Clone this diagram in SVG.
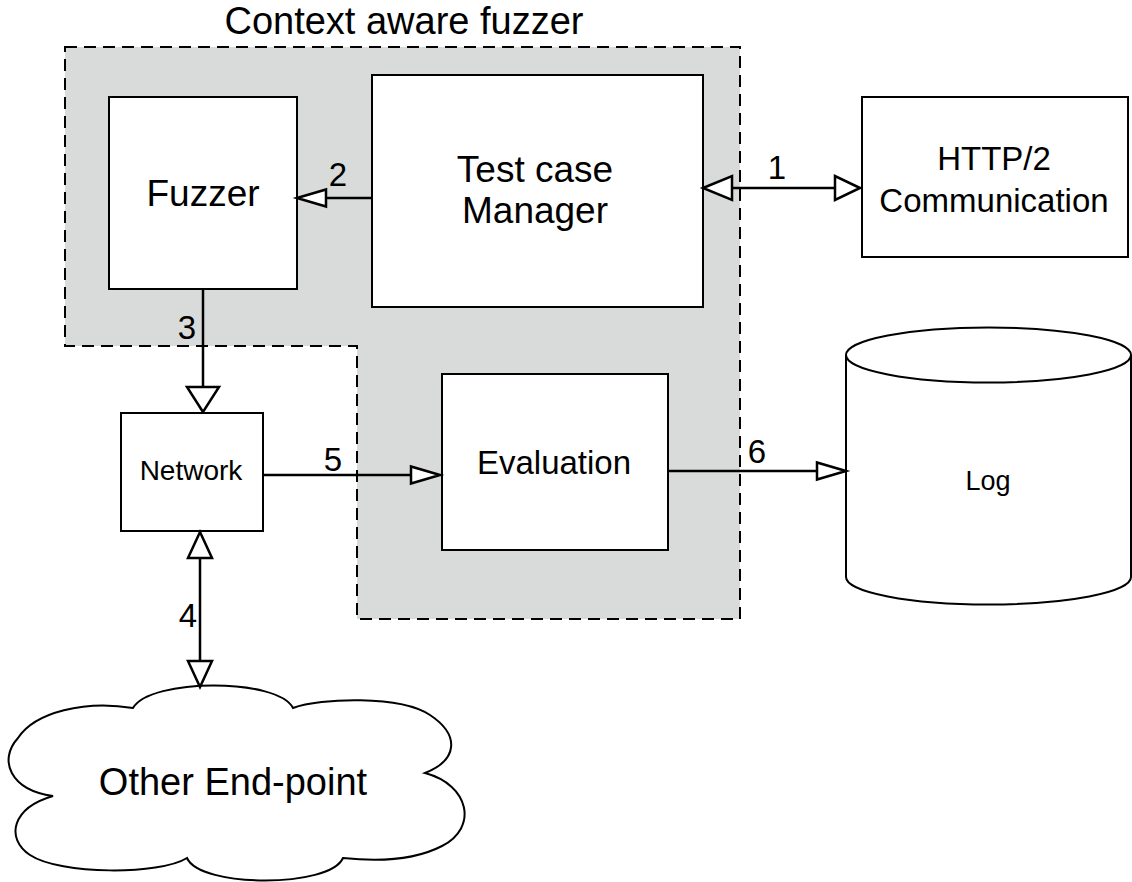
<svg xmlns="http://www.w3.org/2000/svg" width="1132" height="882" viewBox="0 0 1132 882">
  <style>
    .box { fill: #ffffff; stroke: #000000; stroke-width: 2; }
    .shape { fill: #ffffff; stroke: #000000; stroke-width: 2; }
    .zone { fill: #d9dbda; stroke: #000000; stroke-width: 2; stroke-dasharray: 12 7; }
    .wire { fill: none; stroke: #000000; stroke-width: 2.5; }
    .head { fill: #ffffff; stroke: #000000; stroke-width: 2.5; stroke-linejoin: miter; }
    text { font-family: "Liberation Sans", Arial, sans-serif; fill: #000000; text-anchor: middle; }
    .num { font-size: 33px; }
  </style>

  <!-- fuzzer boundary -->
  <g id="context-aware-fuzzer">
    <path class="zone" d="M65,47 H740 V619 H357 V346 H65 Z"/>
    <text x="404" y="34" font-size="38">Context aware fuzzer</text>
  </g>

  <g id="fuzzer">
    <rect class="box" x="109" y="97" width="188" height="192"/>
    <text x="203" y="206" font-size="37">Fuzzer</text>
  </g>

  <g id="test-case-manager">
    <rect class="box" x="372" y="75" width="331" height="232"/>
    <text x="535" y="182" font-size="37">Test case</text>
    <text x="535" y="223" font-size="37">Manager</text>
  </g>

  <g id="http2-communication">
    <rect class="box" x="862" y="97" width="266" height="160"/>
    <text x="994" y="170" font-size="33">HTTP/2</text>
    <text x="994" y="212" font-size="33">Communication</text>
  </g>

  <g id="network">
    <rect class="box" x="121" y="413" width="142" height="118"/>
    <text x="191" y="480" font-size="28">Network</text>
  </g>

  <g id="evaluation">
    <rect class="box" x="442" y="374" width="226" height="176"/>
    <text x="554" y="474" font-size="33">Evaluation</text>
  </g>

  <g id="log">
    <path class="shape" d="M846,355 V577 A142.5,27.5 0 0 0 1131,577 V355"/>
    <ellipse class="shape" cx="988.5" cy="355" rx="142.5" ry="27.5"/>
    <text x="988" y="490" font-size="27">Log</text>
  </g>

  <g id="other-end-point">
    <path class="shape" stroke-width="1.6" d="M133,708
      C150,678 278,678 293,708
      C320,698 400,695 430,715
      C460,735 458,760 425,773
      C470,785 478,828 442,846
      C415,860 380,862 343,858
      C330,888 200,888 187,858
      C160,875 60,875 30,855
      C5,838 12,808 53,796
      C10,790 -2,760 18,738
      C35,712 85,700 133,708 Z"/>
    <text x="233" y="795" font-size="38">Other End-point</text>
  </g>

  <!-- connectors with open arrowheads -->
  <g id="connectors">
    <!-- 1: manager <-> HTTP/2 -->
    <line class="wire" x1="732" y1="188" x2="835" y2="188"/>
    <polygon class="head" points="703,188 732,176 732,200"/>
    <polygon class="head" points="860,188 835,176 835,200"/>
    <text class="num" x="777" y="179">1</text>

    <!-- 2: manager -> fuzzer -->
    <line class="wire" x1="372" y1="198" x2="326" y2="198"/>
    <polygon class="head" points="297,198 326,189.5 326,206.5"/>
    <text class="num" x="338" y="186">2</text>

    <!-- 3: fuzzer -> network -->
    <line class="wire" x1="203" y1="289" x2="203" y2="387"/>
    <polygon class="head" points="203,412 187,387 219,387"/>
    <text class="num" x="187" y="339">3</text>

    <!-- 4: network <-> other end-point -->
    <line class="wire" x1="200" y1="558" x2="200" y2="661"/>
    <polygon class="head" points="200,532 188,558 212,558"/>
    <polygon class="head" points="200,687 188,661 212,661"/>
    <text class="num" x="188" y="627">4</text>

    <!-- 5: network -> evaluation -->
    <line class="wire" x1="263" y1="475" x2="411" y2="475"/>
    <polygon class="head" points="440,475 411,466.5 411,483.5"/>
    <text class="num" x="333" y="471">5</text>

    <!-- 6: evaluation -> log -->
    <line class="wire" x1="668" y1="471" x2="817" y2="471"/>
    <polygon class="head" points="846,471 817,462.5 817,479.5"/>
    <text class="num" x="757" y="463">6</text>
  </g>
</svg>
